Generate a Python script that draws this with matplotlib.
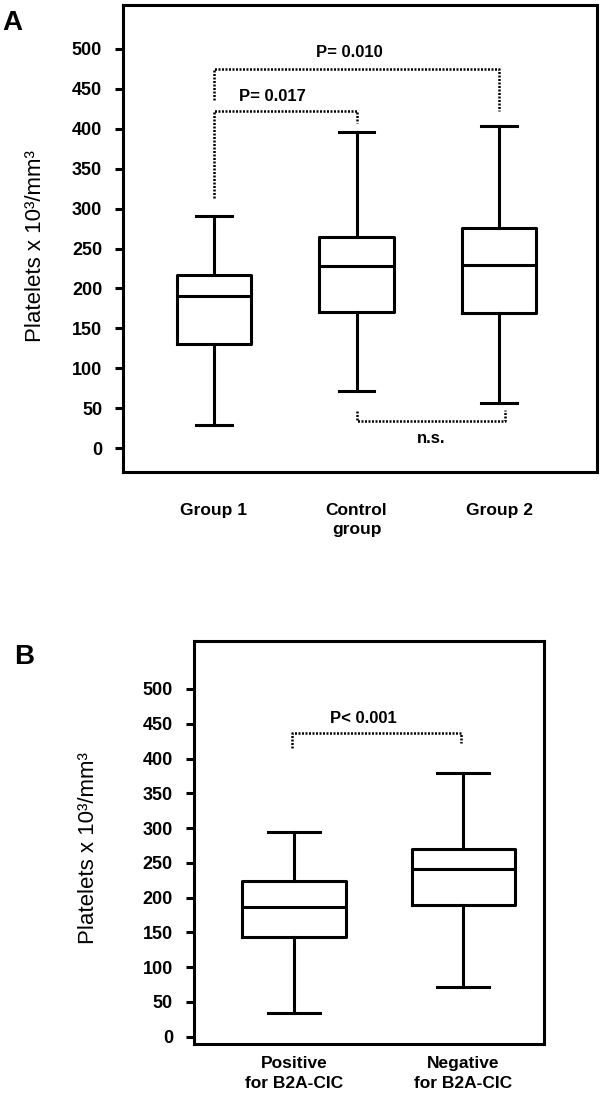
import matplotlib.pyplot as plt

plt.rcParams['font.family'] = ['Liberation Sans', 'DejaVu Sans']

# panel A: platelets by group
groups_a = ["Group 1", "Control\ngroup", "Group 2"]
low_a = [29, 72, 57]
q1_a = [131, 171, 169]
med_a = [191, 228, 230]
q3_a = [217, 265, 276]
high_a = [291, 396, 404]

# panel B: platelets by B2A-CIC status
groups_b = ["Positive\nfor B2A-CIC", "Negative\nfor B2A-CIC"]
low_b = [34, 72]
q1_b = [143, 189]
med_b = [186, 241]
q3_b = [224, 270]
high_b = [295, 379]

yticks = list(range(0, 501, 50))
ylabel = "Platelets x 10³/mm³"

# significance brackets: x1, x2, bar y, end y1, end y2, label, label x, label y
brackets_a = [
    (1, 3, 475, 436, 422, "P= 0.010", 1.95, 495),
    (1, 2, 422, 313, 407, "P= 0.017", 1.41, 441),
    (2, 3.04, 34, 47, 48, "n.s.", 2.52, 12),
]
brackets_b = [
    (0.99, 1.99, 436, 415, 422, "P< 0.001", 1.41, 457),
]

LW = 2.2


def draw_panel(ax, names, lo, q1, med, q3, hi, width, capw, brackets, xpad):
    stats = [dict(whislo=a, q1=b, med=c, q3=d, whishi=e, fliers=[])
             for a, b, c, d, e in zip(lo, q1, med, q3, hi)]
    line = dict(color="black", linewidth=LW)
    pos = list(range(1, len(names) + 1))
    ax.bxp(stats, positions=pos, widths=width, capwidths=capw,
           showfliers=False, boxprops=line, medianprops=line,
           whiskerprops=line, capprops=line)
    ax.set_xticks(pos)
    ax.set_xticklabels(names, fontsize=12.5, linespacing=1.35,
                       fontweight="bold")
    ax.set_yticks(yticks)
    ax.set_yticklabels([str(v) for v in yticks], fontweight="bold")
    ax.tick_params(axis="y", length=6, width=LW, pad=9, labelsize=13)
    ax.tick_params(axis="x", length=0, pad=xpad)
    for s in ax.spines.values():
        s.set_linewidth(LW)

    for x1, x2, yb, e1, e2, txt, tx, ty in brackets:
        ax.plot([x1, x1, x2, x2], [e1, yb, yb, e2], color="black",
                linestyle=(0, (0.8, 0.6)), linewidth=1.8)
        ax.text(tx, ty, txt, ha="center", va="center", fontsize=12,
                fontweight="bold")


fig = plt.figure(figsize=(6, 10.98), dpi=100)

ax_a = fig.add_axes([0.205, 0.570, 0.790, 0.4254])
draw_panel(ax_a, groups_a, low_a, q1_a, med_a, q3_a, high_a,
           0.52, 0.25, brackets_a, 22)
ax_a.set_xlim(0.364, 3.685)
ax_a.set_ylim(-30, 555)

ax_b = fig.add_axes([0.323, 0.0492, 0.584, 0.367])
draw_panel(ax_b, groups_b, low_b, q1_b, med_b, q3_b, high_b,
           0.61, 0.31, brackets_b, 9)
ax_b.set_xlim(0.408, 2.479)
ax_b.set_ylim(-10.5, 569)

fig.text(36 / 600, 1 - 246 / 1098, ylabel, rotation=90,
         ha="center", va="center", fontsize=16)
fig.text(88 / 600, 1 - 848 / 1098, ylabel, rotation=90,
         ha="center", va="center", fontsize=16)

fig.text(12 / 600, 1 - 23 / 1098, "A", ha="center", va="center",
         fontsize=20, fontweight="bold")
fig.text(24 / 600, 1 - 657 / 1098, "B", ha="center", va="center",
         fontsize=20, fontweight="bold")

fig.savefig("out.png", dpi=100)
